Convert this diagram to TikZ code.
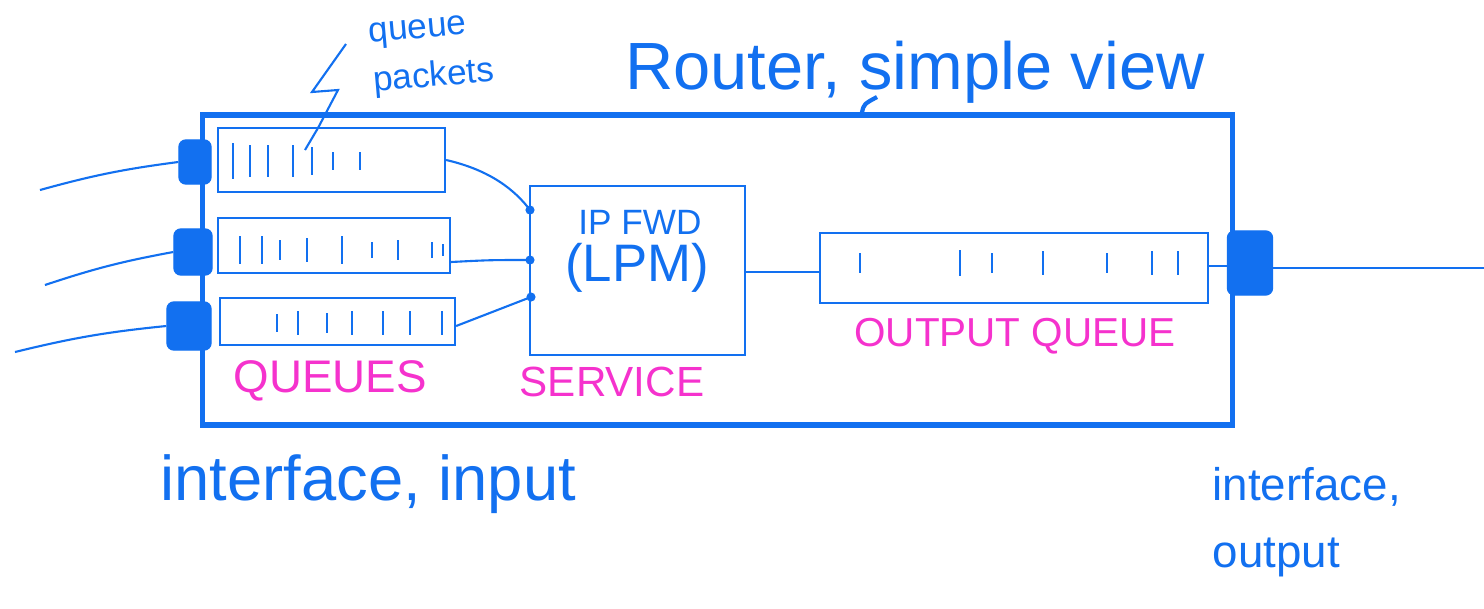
\documentclass[tikz,border=0pt]{standalone}
\usepackage{fontspec}
\setmainfont{Liberation Sans}
\definecolor{ink}{RGB}{18,112,240}
\definecolor{marker}{RGB}{245,50,205}

\begin{document}
\begin{tikzpicture}[x=0.01cm,y=-0.01cm,
	pen/.style={draw=ink,line width=0.6pt},
	queuebox/.style={pen,rectangle,inner sep=0pt},
	port/.style={draw=ink,fill=ink,rounded corners=2pt,inner sep=0pt},
	tag/.style={text=marker,inner sep=0pt,font=\fontsize{12}{14}\selectfont},
	hand/.style={text=ink,inner sep=0pt}]
	
	\useasboundingbox (0,0) rectangle (1484,608);
	
	\node[draw=ink,line width=1.5pt,minimum width=10.29cm,minimum height=3.10cm] (router) at (717.5,270) {};
	\node[hand,font=\fontsize{19}{22}\selectfont] (title) at (915,72) {Router, simple view};
	\coordinate (tk) at (877,97);
	\draw[ink,line width=1.2pt] (router.north -| 862,0) .. controls (864,104) .. (tk);
	
	\node[queuebox,minimum width=2.27cm,minimum height=0.64cm] (q1) at (331.5,160) {};
	\node[queuebox,minimum width=2.32cm,minimum height=0.55cm] (q2) at (334,245.5) {};
	\node[queuebox,minimum width=2.35cm,minimum height=0.47cm] (q3) at (337.5,321.5) {};
	\foreach \px/\h in {233/18,250/16,268/16,293/16,312/14,333/9,360/9}
		\draw[pen] (\px,161-\h) -- (\px,161+\h);
	\foreach \px/\h in {240/14,262/14,280/10,307/12,342/14,372/8,398/10,432/8,443/6}
		\draw[pen] (\px,250-\h) -- (\px,250+\h);
	\foreach \px/\h in {277/9,298/12,327/10,352/12,383/12,410/12,442/12}
		\draw[pen] (\px,323-\h) -- (\px,323+\h);
	\node[tag,font=\fontsize{13}{15}\selectfont] (qlbl) at (330,381) {QUEUES};
	
	\node[port,minimum width=0.32cm,minimum height=0.44cm] (ib1) at (195,162) {};
	\node[port,minimum width=0.38cm,minimum height=0.46cm] (ib2) at (193,252) {};
	\node[port,minimum width=0.44cm,minimum height=0.48cm] (ib3) at (189,326) {};
	\coordinate (in1) at (40,190);
	\coordinate (in2) at (45,285);
	\coordinate (in3) at (15,352);
	\draw[pen] (in1) to[bend left=4] (ib1.west);
	\draw[pen] (in2) to[bend left=4] (ib2.west);
	\draw[pen] (in3) to[bend left=4] (ib3.west);
	
	\node[draw=ink,line width=0.8pt,minimum width=2.15cm,minimum height=1.69cm] (srv) at (637.5,270.5) {};
	\node[hand,font=\fontsize{10}{12}\selectfont] (fwd) at (640,222) {IP FWD};
	\node[hand,font=\fontsize{15}{18}\selectfont] (lpm) at (637,268) {(LPM)};
	\node[tag,font=\fontsize{12}{14}\selectfont] (slbl) at (612,382) {SERVICE};
	\coordinate (p1) at (530,210);
	\coordinate (p2) at (530,260);
	\coordinate (p3) at (531,297);
	\draw[pen] (q1.east) .. controls (490,170) and (515,190) .. (p1);
	\draw[pen] (q2.east |- 0,262) .. controls (490,260) .. (p2);
	\draw[pen] (q3.east |- 0,326) -- (p3);
	\foreach \p in {p1,p2,p3}
		\fill[ink] (\p) circle (1.3pt);
	
	\node[queuebox,minimum width=3.88cm,minimum height=0.70cm] (oq) at (1014,268) {};
	\foreach \px/\h in {860/10,960/13,992/10,1043/12,1107/10,1152/12,1178/12}
		\draw[pen] (\px,263-\h) -- (\px,263+\h);
	\node[tag,font=\fontsize{11.5}{14}\selectfont] (olbl) at (1015,336) {OUTPUT QUEUE};
	\draw[pen] (srv.east |- 0,272) -- (oq.west |- 0,272);
	
	\node[port,minimum width=0.45cm,minimum height=0.64cm] (ob) at (1250,263) {};
	\coordinate (out) at (1484,268);
	\draw[pen] (oq.east |- 0,266) -- (ob.west |- 0,266);
	\draw[pen] (ob.east |- out) -- (out);
	
	\node[hand,font=\fontsize{10}{14}\selectfont,align=left,rotate=5] (ann) at (432,56) {queue\\packets};
	\draw[pen] (346,44) -- (312,92) -- (338,90) -- (318,128) -- (305,150);
	
	\node[hand,font=\fontsize{18}{21}\selectfont,anchor=west] (iin) at (160,484) {interface, input};
	\node[hand,font=\fontsize{13}{19}\selectfont,align=left,anchor=west] (iout) at (1212,522) {interface,\\output};
	
\end{tikzpicture}
\end{document}
